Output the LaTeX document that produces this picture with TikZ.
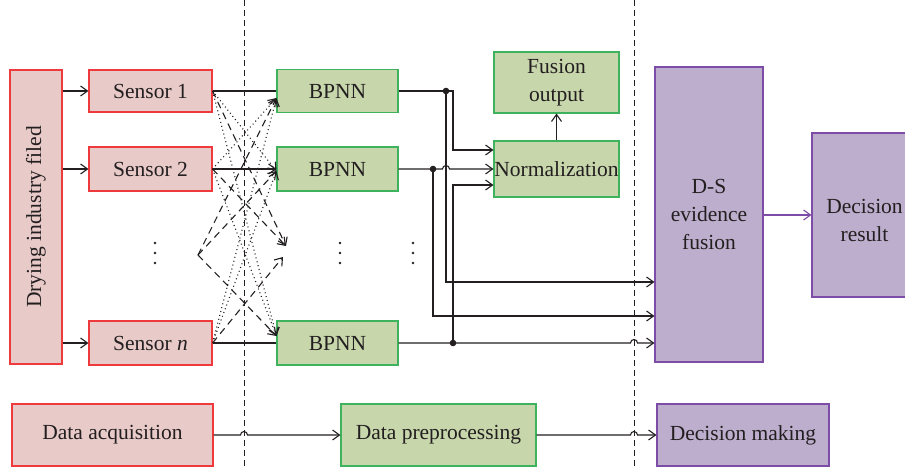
\documentclass[tikz,border=0pt]{standalone}
\usepackage{fontspec}
\setmainfont{Liberation Serif}
\usetikzlibrary{arrows.meta,calc}
\definecolor{txt}{RGB}{35,31,32}
\definecolor{redfill}{RGB}{232,202,200}
\definecolor{reddraw}{RGB}{238,58,60}
\definecolor{grnfill}{RGB}{199,214,171}
\definecolor{grndraw}{RGB}{62,178,92}
\definecolor{purfill}{RGB}{188,174,204}
\definecolor{purdraw}{RGB}{124,76,166}
\tikzset{
  box/.style={draw, line width=1.1pt, inner sep=0pt, text=txt, align=center,
    font=\fontsize{21.5}{28}\selectfont},
  redbox/.style={box, fill=redfill, draw=reddraw},
  grnbox/.style={box, fill=grnfill, draw=grndraw},
  purbox/.style={box, fill=purfill, draw=purdraw},
  arr/.style={-{Straight Barb[length=7pt,width=10pt,line width=1.1pt]}},
  conn/.style={line width=1.1pt, draw=txt},
  sep/.style={line width=1pt, draw=txt, dash pattern=on 6pt off 4pt},
  dsh/.style={line width=1.1pt, draw=txt, dash pattern=on 7pt off 5pt},
  dtt/.style={line width=1.1pt, draw=txt, dash pattern=on 1pt off 3pt},
  junction/.style={fill=txt},
  dotnode/.style={circle, fill=txt, inner sep=0pt, minimum size=2.8pt}
}
\begin{document}
\begin{tikzpicture}[x=1pt,y=-1pt]
\useasboundingbox (0,0) rectangle (905,468);
% separators
\coordinate (v1t) at (244,0); \coordinate (v1b) at (244,468);
\coordinate (v2t) at (634,0); \coordinate (v2b) at (634,468);
\draw[sep] (v1t) -- (v1b);
\draw[sep] (v2t) -- (v2b);
% boxes
\node[redbox, minimum width=52pt, minimum height=294pt] (dry) at (36,217) {};
\node[rotate=90, text=txt, font=\fontsize{21.5}{28}\selectfont] (drytxt) at (dry.center) {Drying industry filed};
\node[redbox, minimum width=123pt, minimum height=42pt] (s1) at (150.5,91) {Sensor 1};
\node[redbox, minimum width=123pt, minimum height=44pt] (s2) at (150.5,169) {Sensor 2};
\node[redbox, minimum width=123pt, minimum height=44pt] (sn) at (150.5,343) {Sensor \textit{n}};
\node[grnbox, minimum width=121pt, minimum height=43pt] (b1) at (337.5,91) {BPNN};
\node[grnbox, minimum width=121pt, minimum height=44pt] (b2) at (337.5,169) {BPNN};
\node[grnbox, minimum width=121pt, minimum height=44pt] (bn) at (337.5,343) {BPNN};
\node[grnbox, minimum width=125pt, minimum height=61pt] (fus) at (556.5,82.5) {Fusion\\output};
\node[grnbox, minimum width=125pt, minimum height=56pt] (nrm) at (556.5,169) {Normalization};
\node[purbox, minimum width=108pt, minimum height=295pt] (ds) at (709,214.5) {D-S\\evidence\\fusion};
\node[purbox, minimum width=105pt, minimum height=164pt] (dec) at (864.5,215) {};
\node[text=txt, align=center, font=\fontsize{21.5}{28}\selectfont] (dectxt) at (864.5,220) {Decision\\result};
\node[redbox, minimum width=201pt, minimum height=62pt] (acq) at (112.5,435) {Data acquisition};
\node[grnbox, minimum width=195pt, minimum height=62pt] (pre) at (438.5,435) {Data preprocessing};
\node[purbox, minimum width=172pt, minimum height=62pt] (mak) at (743,435) {Decision making};
% vertical dots
\foreach \yy [count=\i] in {243,253,263} {
  \node[dotnode] (da\i) at (155,\yy) {};
  \node[dotnode] (db\i) at (340,\yy) {};
  \node[dotnode] (dc\i) at (413,\yy) {};
}
% drying -> sensors
\draw[conn,arr] (s1.west -| dry.east) -- (s1.west);
\draw[conn,arr] (s2.west -| dry.east) -- (s2.west);
\draw[conn,arr] (sn.west -| dry.east) -- (sn.west);
% sensors -> BPNN (solid)
\draw[conn] (s1.east) -- (s1.east -| b1.west);
\draw[conn,arr] (s2.east) -- (s2.east -| b2.west);
\draw[conn] (sn.east) -- (sn.east -| bn.west);
% mesh
\coordinate (ld) at (198,255);
\coordinate (rdt) at (286,246);
\coordinate (rdb) at (283,257);
\coordinate (b1in) at ($(b1.west)+(0,7)$);
\coordinate (b2in) at ($(b2.west)+(0,2)$);
\coordinate (bnin) at ($(bn.west)+(0,-7)$);
\draw[dsh,arr] (s1.east) -- (rdt);
\draw[dsh,arr] (s2.east) -- (rdt);
\draw[dsh,arr] (sn.east) -- (rdb);
\draw[dsh,arr] (ld) -- (b1in);
\draw[dsh,arr] (ld) -- (b2in);
\draw[dsh,arr] (ld) -- (bnin);
\draw[dtt,arr] (s1.east) -- (b2in);
\draw[dtt,arr] (s1.east) -- (bnin);
\draw[dtt,arr] (s2.east) -- (b1in);
\draw[dtt,arr] (s2.east) -- (bnin);
\draw[dtt,arr] (sn.east) -- (b1in);
\draw[dtt,arr] (sn.east) -- (b2in);
% junctions
\coordinate (j1) at (446,91);
\coordinate (j2) at (433,169);
\coordinate (j3) at (453,343);
\draw[conn] (b1.east) -- (j1);
\draw[conn,arr] (j1) -- (453,91) -- (453,150) -- (nrm.west |- 453,150);
\draw[conn,arr] (j1) -- (446,282) -- (ds.west |- 446,282);
\draw[conn,arr] (b2.east) -- (442.5,169) arc[start angle=180,end angle=360,radius=3.5] -- (nrm.west |- 446,169);
\draw[conn,arr] (j2) -- (433,316) -- (ds.west |- 433,316);
\draw[conn,arr] (bn.east) -- (630.5,343) arc[start angle=180,end angle=360,radius=3.5] -- (ds.west |- 634,343);
\draw[conn,arr] (j3) -- (453,185) -- (nrm.west |- 453,185);
\fill[junction] (j1) circle (3.3);
\fill[junction] (j2) circle (3.3);
\fill[junction] (j3) circle (3.3);
% normalization -> fusion
\draw[conn,arr] (nrm.north) -- (fus.south);
% D-S -> decision
\draw[line width=1.1pt, draw=purdraw, arr] (ds.east |- dec.west) -- (dec.west);
% bottom row
\draw[conn,arr] (acq.east) -- (240.5,435) arc[start angle=180,end angle=360,radius=3.5] -- (pre.west);
\draw[conn,arr] (pre.east) -- (630.5,435) arc[start angle=180,end angle=360,radius=3.5] -- (mak.west);
\end{tikzpicture}
\end{document}
